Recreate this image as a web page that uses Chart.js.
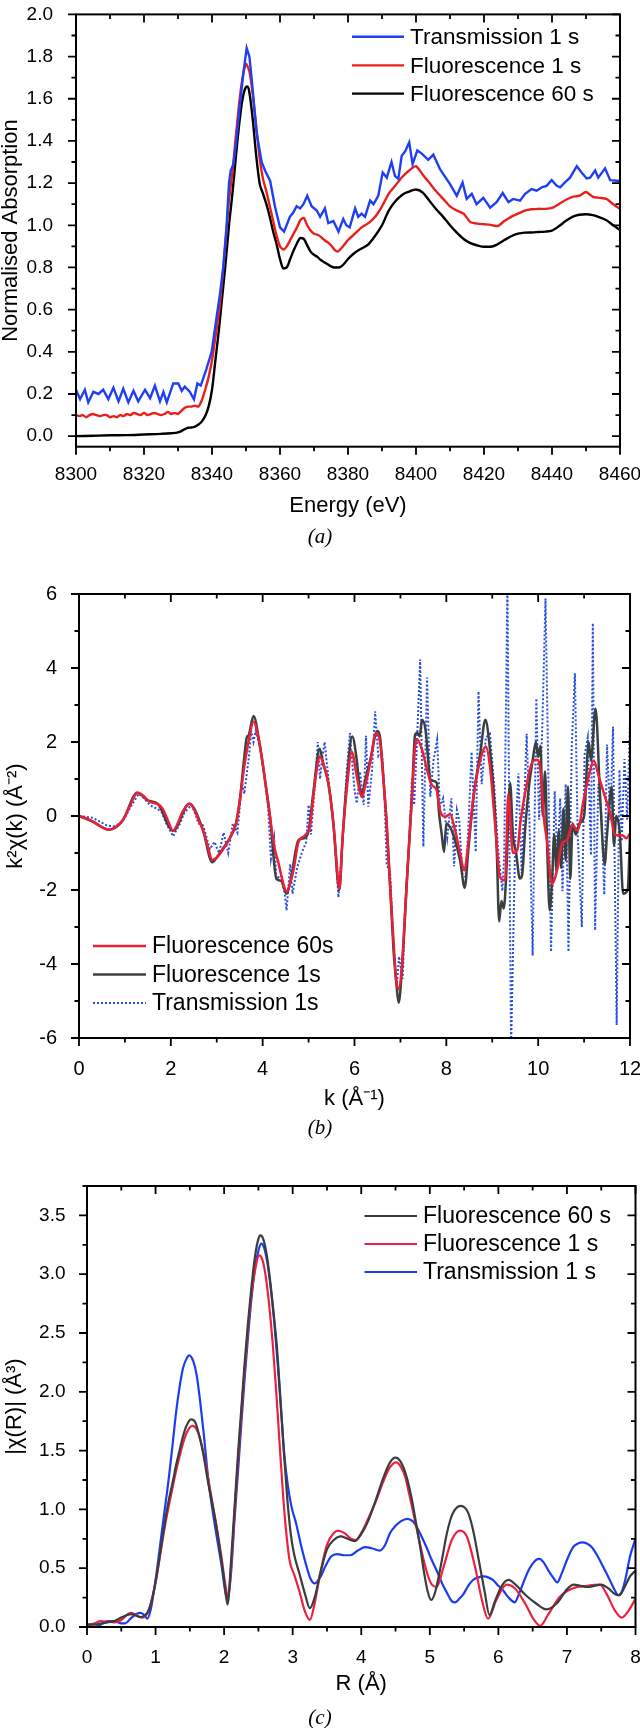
<!DOCTYPE html>
<html><head><meta charset="utf-8">
<script src="https://cdn.jsdelivr.net/npm/chart.js"></script>
<style>
html,body{margin:0;padding:0;background:#fff}
body{width:640px;height:1728px;position:relative;overflow:hidden}
canvas{position:absolute;left:0}
.cap{position:absolute;left:0;width:640px;text-align:center;font:italic 21px "Liberation Serif","Times New Roman",serif;line-height:22px;color:#000}
</style></head><body>
<canvas id="ca" width="660" height="572" style="top:-12px;width:660px;height:572px"></canvas>
<canvas id="cb" width="660" height="582" style="top:558px;width:660px;height:582px"></canvas>
<canvas id="cc" width="660" height="588" style="top:1140px;width:660px;height:588px"></canvas>
<div class="cap" style="top:525px">(a)</div>
<div class="cap" style="top:1116px">(b)</div>
<div class="cap" style="top:1706px">(c)</div>
<script>
// ---------- Panel (a): XANES ----------
const energyF60 = [8300,8305,8310,8315,8320,8325,8328,8330,8331,8332,8333,8334,8335,8336,8337,8338,8339,8340,8341,8342,8343,8344,8345,8346,8347,8348,8349,8350,8350.5,8351,8352,8353,8354,8355,8356,8357,8358,8359,8360,8361,8362,8363,8364,8365,8366,8367,8368,8369,8370,8371,8372,8373,8374,8375,8376,8377,8378,8379,8380,8382,8384,8386,8388,8390,8392,8394,8396,8398,8400,8402,8404,8406,8408,8410,8412,8414,8416,8418,8420,8422,8424,8426,8428,8430,8432,8434,8436,8438,8440,8442,8444,8446,8448,8450,8452,8454,8456,8458,8460];
const absF60 = [0.000,0.002,0.004,0.005,0.008,0.011,0.014,0.018,0.024,0.033,0.040,0.041,0.045,0.055,0.070,0.095,0.140,0.220,0.360,0.500,0.660,0.820,1.000,1.150,1.320,1.480,1.600,1.655,1.658,1.630,1.500,1.330,1.200,1.150,1.100,1.040,0.970,0.910,0.840,0.795,0.800,0.840,0.880,0.915,0.940,0.935,0.905,0.875,0.860,0.850,0.835,0.825,0.815,0.805,0.800,0.800,0.805,0.820,0.840,0.870,0.890,0.910,0.950,1.000,1.070,1.115,1.145,1.160,1.170,1.155,1.115,1.075,1.040,1.000,0.965,0.935,0.915,0.905,0.898,0.898,0.910,0.930,0.948,0.960,0.965,0.966,0.968,0.970,0.975,0.995,1.020,1.040,1.050,1.052,1.048,1.038,1.024,1.000,0.978];

const energyF1 = [8300,8301,8302,8303,8304,8305,8306,8307,8308,8309,8310,8311,8312,8313,8314,8315,8316,8317,8318,8319,8320,8321,8322,8323,8324,8325,8326,8327,8328,8329,8330,8331,8332,8333,8334,8335,8336,8337,8338,8339,8340,
 8341,8342,8343,8344,8345,8346,8347,8348,8349,8350,8351,8352,8353,8354,8355,8356,8357,8358,8359,8360,8361,8362,8363,8364,8365,8366,8367,8368,8369,8370,8371,8372,8373,8374,8375,8376,8377,8378,8379,8380,
 8382,8384,8386,8388,8390,8392,8394,8396,8398,8400,8402,8404,8406,8408,8410,8412,8414,8416,8418,8420,8422,8424,8426,8428,8430,8432,8434,8436,8438,8440,8442,8444,8446,8448,8450,8452,8454,8456,8458,8460];
const absF1 = [0.100,0.095,0.100,0.090,0.100,0.105,0.100,0.095,0.100,0.100,0.090,0.095,0.090,0.100,0.095,0.105,0.100,0.110,0.105,0.100,0.110,0.100,0.105,0.110,0.105,0.100,0.105,0.115,0.105,0.110,0.105,0.120,0.135,0.140,0.140,0.145,0.140,0.170,0.220,0.280,0.360,
 0.470,0.580,0.740,0.920,1.120,1.250,1.420,1.580,1.700,1.765,1.730,1.620,1.470,1.320,1.220,1.160,1.090,1.020,0.950,0.900,0.885,0.900,0.930,0.960,0.990,1.025,1.035,1.000,0.975,0.960,0.955,0.945,0.930,0.920,0.905,0.885,0.875,0.890,0.910,0.930,
 0.960,0.990,1.010,1.040,1.090,1.150,1.190,1.230,1.260,1.280,1.240,1.200,1.160,1.125,1.090,1.070,1.055,1.015,1.008,1.005,1.002,0.996,1.020,1.040,1.055,1.070,1.076,1.078,1.078,1.082,1.100,1.120,1.135,1.140,1.158,1.135,1.130,1.125,1.100,1.078];

const energyT1 = [8300,8301.2,8302.6,8303.6,8305.1,8306.6,8308,8309.5,8311,8312.5,8313.9,8315.4,8316.9,8318.3,8320.3,8321.8,8323.2,8324.7,8325.7,8326.7,8328.6,8330.1,8331.1,8332,8333.5,8334.7,8335.7,8336.7,8338.4,8339.9,8341.4,8342.4,8343.3,8344.3,8345,8345.5,8346.3,8347,8348.2,8349.2,8350.2,8351,8351.7,8353.1,8354.6,8355.6,8357.1,8358.5,8360,8361.2,8362.9,8363.9,8364.9,8365.9,8366.9,8368,8369.3,8370.8,8371.8,8373.2,8374.2,8375.7,8377.2,8378.6,8379.5,8380.5,8382.1,8383,8384,8385,8386.5,8387.5,8388.9,8390.2,8391.4,8392.8,8393.8,8394.8,8395.8,8396.8,8398,8399,8400.4,8401.7,8403.6,8405.1,8407.1,8410,8412,8413.7,8414.9,8416.4,8417.8,8419.8,8421.8,8423.7,8425.5,8427.2,8428.6,8430.6,8432.1,8434,8435.5,8437,8438.4,8439.9,8441.4,8442.4,8443.8,8445.3,8447.3,8448.7,8450.2,8451.2,8452.7,8453.6,8455.6,8457.1,8460];
const absT1 = [0.22,0.175,0.22,0.16,0.21,0.20,0.22,0.175,0.23,0.165,0.225,0.16,0.215,0.165,0.22,0.18,0.24,0.165,0.21,0.16,0.25,0.25,0.215,0.235,0.21,0.175,0.25,0.24,0.32,0.40,0.57,0.68,0.80,1.00,1.20,1.26,1.29,1.38,1.57,1.72,1.84,1.80,1.69,1.44,1.30,1.26,1.21,1.09,0.99,0.97,1.04,1.06,1.09,1.08,1.10,1.14,1.09,1.07,1.04,1.08,1.01,1.02,0.97,1.03,1.00,0.99,1.08,1.04,1.055,1.04,1.117,1.10,1.14,1.25,1.226,1.30,1.234,1.22,1.33,1.35,1.393,1.29,1.355,1.34,1.31,1.335,1.265,1.195,1.14,1.203,1.125,1.149,1.10,1.13,1.083,1.11,1.153,1.11,1.125,1.117,1.149,1.172,1.164,1.18,1.187,1.214,1.187,1.18,1.203,1.226,1.28,1.25,1.222,1.226,1.26,1.226,1.27,1.214,1.21];

// ---------- Panel (b): k-space EXAFS ----------
const kF60 = [0,0.15,0.3,0.45,0.65,0.8,0.95,1.1,1.27,1.4,1.5,1.6,1.72,1.82,1.93,2.05,2.15,2.25,2.4,2.5,2.6,2.7,2.8,2.9,3.0,3.15,3.3,3.42,3.5,3.6,3.7,3.8,3.94,4.05,4.16,4.25,4.35,4.45,4.52,4.6,4.67,4.78,4.9,4.96,5.03,5.1,5.16,5.24,5.32,5.43,5.54,5.6,5.67,5.74,5.83,5.94,6.05,6.16,6.23,6.34,6.47,6.56,6.63,6.7,6.78,6.86,6.91,6.96,7.03,7.14,7.25,7.32,7.37,7.47,7.58,7.68,7.79,7.86,7.97,8.08,8.19,8.3,8.39,8.48,8.59,8.74,8.86,8.95,9.06,9.17,9.28,9.35,9.45,9.55,9.61,9.77,9.88,9.97,10.03,10.08,10.12,10.19,10.3,10.41,10.52,10.63,10.74,10.86,10.99,11.1,11.21,11.32,11.43,11.57,11.68,11.83,11.92,12];
const chiF60 = [0,-0.06,-0.15,-0.27,-0.37,-0.3,-0.12,0.25,0.63,0.55,0.42,0.36,0.32,0.2,-0.1,-0.4,-0.2,0.1,0.33,0.2,-0.1,-0.38,-0.8,-1.18,-1.12,-0.88,-0.56,-0.2,0.4,1.34,2.06,2.55,1.9,0.98,-0.02,-0.8,-1.3,-1.83,-2.05,-1.8,-1.47,-0.7,-0.55,-0.47,-0.29,0.5,1.1,1.61,1.43,0.89,-0.2,-1.1,-1.96,-0.6,0.7,1.73,1.07,0.52,0.8,1.43,2.24,1.97,0.98,-0.2,-2.0,-3.6,-4.45,-4.68,-4.09,-1.74,0.52,1.88,2.06,1.79,1.25,0.84,0.7,0.16,-0.02,0.05,-0.38,-1.01,-1.47,-0.74,0.52,1.52,1.88,1.34,-0.2,-1.65,-1.74,0.6,-1.0,-0.9,-0.2,0.98,1.47,1.52,1.4,0.8,0.0,-0.65,-1.83,-1.47,-0.74,-0.65,-0.24,-0.38,0.43,1.07,1.5,1.07,0.62,0.07,-0.52,-0.52,-0.6,-0.47];

const kF1 = [0,0.3,0.65,0.95,1.27,1.5,1.72,2.05,2.4,2.7,2.9,3.0,3.15,3.3,3.42,3.5,3.6,3.65,3.7,3.8,3.94,4.05,4.16,4.3,4.4,4.52,4.6,4.78,4.9,5.0,5.1,5.24,5.32,5.43,5.54,5.67,5.74,5.83,5.95,6.05,6.1,6.16,6.23,6.34,6.5,6.56,6.63,6.7,6.78,6.86,6.91,6.96,7.03,7.14,7.25,7.32,7.37,7.42,7.47,7.55,7.65,7.7,7.79,7.84,7.9,7.95,8.0,8.08,8.15,8.3,8.4,8.48,8.6,8.74,8.85,8.95,9.05,9.1,9.15,9.2,9.25,9.3,9.39,9.45,9.52,9.6,9.65,9.72,9.8,9.88,9.95,10.0,10.05,10.1,10.15,10.2,10.25,10.3,10.35,10.4,10.45,10.5,10.55,10.6,10.65,10.7,10.75,10.82,10.9,11.0,11.1,11.15,11.25,11.35,11.45,11.5,11.6,11.65,11.7,11.78,11.85,11.95,12];
const chiF1 = [0,-0.15,-0.37,-0.12,0.63,0.42,0.32,-0.4,0.33,-0.38,-1.25,-1.12,-0.85,-0.56,-0.2,0.4,1.6,2.1,2.2,2.7,1.9,0.98,-0.02,-1.7,-1.75,-2.1,-1.8,-0.65,-0.6,-0.4,0.6,1.82,1.4,0.89,-0.2,-2.0,-0.6,0.9,2.15,1.5,0.9,0.6,0.95,1.5,2.3,2.1,1.0,-0.2,-2.0,-3.8,-4.5,-5.05,-4.2,-1.8,0.52,2.2,2.25,2.15,2.6,2.3,1.0,0.95,0.9,0.1,-0.5,-0.97,-0.2,-0.3,-0.5,-1.2,-1.94,-0.9,0.6,1.7,2.6,1.8,0.3,-1.0,-2.85,-2.3,-2.5,-1.7,0.89,-0.5,-1.0,-1.69,-1.6,-0.3,0.8,1.5,2.0,1.6,1.9,0.0,1.2,-1.0,-2.55,-1.8,-0.5,-1.5,-0.4,-1.4,0.2,-1.2,0.8,-1.7,-0.2,-0.5,-0.2,0.0,2.0,1.5,2.9,0.5,-1.3,-0.5,0.8,-0.8,0.0,-0.5,-2.1,-2.0,-0.5];

const kT1 = [0,0.15,0.3,0.45,0.6,0.75,0.9,1.0,1.15,1.3,1.4,1.5,1.6,1.7,1.8,1.9,2.05,2.2,2.3,2.45,2.55,2.6,2.7,2.75,2.85,2.95,3.05,3.15,3.25,3.35,3.45,3.55,3.6,3.7,3.75,3.8,3.85,3.95,4.05,4.12,4.18,4.25,4.3,4.4,4.48,4.52,4.6,4.65,4.75,4.85,4.95,5.0,5.05,5.15,5.2,5.25,5.3,5.35,5.45,5.55,5.65,5.75,5.83,5.9,6.0,6.05,6.12,6.2,6.25,6.3,6.38,6.45,6.52,6.6,6.65,6.7,6.78,6.85,6.92,6.97,7.05,7.1,7.2,7.25,7.3,7.36,7.43,7.5,7.58,7.65,7.72,7.8,7.86,7.93,8.02,8.11,8.17,8.23,8.28,8.35,8.42,8.48,8.55,8.64,8.7,8.77,8.86,8.95,9.04,9.13,9.22,9.26,9.33,9.41,9.5,9.57,9.64,9.75,9.81,9.88,9.96,10.02,10.09,10.16,10.24,10.28,10.36,10.42,10.48,10.53,10.6,10.66,10.73,10.8,10.86,10.95,11.01,11.08,11.15,11.19,11.24,11.31,11.38,11.44,11.5,11.57,11.63,11.71,11.77,11.82,11.88,11.94,12.0];
const chiT1 = [0,-0.02,-0.05,-0.15,-0.25,-0.28,-0.2,-0.05,0.3,0.6,0.5,0.35,0.25,0.2,0.1,-0.2,-0.55,-0.2,0.1,0.3,0.0,-0.2,-0.25,-0.45,-0.9,-0.7,-1.0,-0.45,-1.0,-0.2,-0.45,0.9,0.6,1.6,2.3,2.0,2.3,1.8,1.0,0.2,-1.15,-0.6,-1.7,-1.6,-2.1,-2.55,-1.3,-2.1,-1.4,-1.0,-0.7,0.3,-0.5,1.0,2.0,1.0,1.6,2.0,0.8,-0.3,-2.2,-0.5,1.2,2.24,0.7,0.34,1.2,0.3,2.17,0.25,1.2,2.83,1.61,1.7,0.7,-1.28,-1.6,-3.5,-4.6,-3.8,-4.4,-2.5,-0.5,1.0,0.3,2.0,4.23,-0.83,3.74,0.52,1.5,2.06,0.25,0.48,-0.58,0.48,-1.36,0.16,-0.1,-1.56,-1.65,-0.3,1.73,-0.97,3.37,0.86,2.12,2.22,0.86,-0.97,-2.03,-1.06,6.3,-6.3,-0.68,1.15,-1.55,2.22,-0.1,-3.77,3.18,-0.1,2.41,5.88,-0.3,-3.67,0.67,-1.26,0.48,-2.03,0.86,-3.67,1.83,3.86,-0.49,-3.0,1.64,2.12,-1.06,5.21,-3.09,0.86,0.0,-2.13,1.93,-0.1,2.41,-5.65,1.25,-0.68,1.54,-0.1,2.6];

// ---------- Panel (c): R-space magnitude ----------
const rF60 = [0,0.1,0.2,0.3,0.4,0.5,0.6,0.65,0.7,0.78,0.85,0.9,0.95,1.0,1.05,1.1,1.15,1.2,1.26,1.3,1.35,1.4,1.45,1.52,1.58,1.64,1.7,1.76,1.82,1.88,1.94,2.0,2.05,2.1,2.15,2.2,2.25,2.3,2.35,2.4,2.45,2.5,2.53,2.57,2.62,2.67,2.72,2.77,2.82,2.87,2.92,2.97,3.02,3.1,3.18,3.25,3.32,3.4,3.5,3.6,3.7,3.8,3.9,4.0,4.1,4.2,4.33,4.42,4.5,4.58,4.66,4.74,4.8,4.86,4.92,4.97,5.02,5.08,5.17,5.25,5.33,5.45,5.56,5.64,5.72,5.8,5.87,5.95,6.05,6.15,6.25,6.4,6.55,6.7,6.85,7.0,7.1,7.2,7.3,7.4,7.5,7.6,7.7,7.76,7.85,7.92,8.0];
const magF60 = [0.02,0.02,0.03,0.04,0.05,0.08,0.105,0.11,0.1,0.085,0.1,0.14,0.24,0.38,0.56,0.76,0.94,1.1,1.26,1.38,1.5,1.62,1.71,1.766,1.74,1.62,1.46,1.25,1.07,0.88,0.65,0.4,0.19,0.55,1.0,1.45,1.85,2.25,2.6,2.9,3.15,3.3,3.33,3.3,3.17,2.95,2.68,2.38,1.95,1.5,1.1,0.8,0.62,0.45,0.28,0.16,0.25,0.45,0.66,0.74,0.77,0.75,0.73,0.79,0.9,1.06,1.28,1.4,1.44,1.4,1.28,1.08,0.88,0.68,0.45,0.3,0.23,0.3,0.55,0.8,0.96,1.03,0.97,0.8,0.55,0.3,0.1,0.22,0.35,0.4,0.36,0.27,0.2,0.15,0.2,0.32,0.36,0.35,0.34,0.35,0.36,0.33,0.28,0.27,0.35,0.43,0.48];

const rF1 = [0,0.1,0.2,0.3,0.4,0.5,0.6,0.65,0.72,0.8,0.87,0.93,1.0,1.05,1.1,1.15,1.2,1.26,1.3,1.35,1.4,1.46,1.54,1.6,1.66,1.72,1.78,1.84,1.9,1.96,2.02,2.06,2.1,2.15,2.2,2.25,2.3,2.35,2.4,2.45,2.51,2.56,2.61,2.66,2.71,2.76,2.81,2.86,2.91,2.96,3.02,3.1,3.18,3.25,3.32,3.4,3.5,3.6,3.66,3.75,3.85,3.92,4.0,4.1,4.2,4.33,4.42,4.51,4.58,4.64,4.7,4.76,4.84,4.91,4.97,5.03,5.1,5.2,5.32,5.44,5.54,5.66,5.76,5.85,5.97,6.12,6.24,6.39,6.51,6.61,6.73,6.9,7.09,7.29,7.48,7.58,7.7,7.8,7.9,8.0];
const magF1 = [0.02,0.03,0.05,0.045,0.04,0.06,0.11,0.12,0.1,0.08,0.11,0.2,0.38,0.55,0.73,0.9,1.05,1.22,1.33,1.45,1.56,1.66,1.71,1.68,1.58,1.42,1.22,1.02,0.82,0.6,0.35,0.25,0.5,0.95,1.4,1.8,2.2,2.55,2.83,3.03,3.16,3.12,2.97,2.72,2.4,2.0,1.55,1.12,0.78,0.55,0.45,0.3,0.13,0.06,0.2,0.45,0.7,0.8,0.82,0.8,0.75,0.74,0.8,0.92,1.05,1.25,1.36,1.4,1.36,1.28,1.13,0.97,0.75,0.57,0.44,0.36,0.34,0.51,0.74,0.82,0.77,0.51,0.23,0.07,0.23,0.36,0.33,0.2,0.07,0.01,0.11,0.26,0.33,0.35,0.36,0.28,0.14,0.08,0.14,0.24];

const rT1 = [0,0.1,0.2,0.3,0.4,0.5,0.55,0.65,0.72,0.78,0.84,0.88,0.93,1.0,1.05,1.1,1.15,1.19,1.25,1.3,1.35,1.4,1.45,1.49,1.55,1.6,1.65,1.7,1.77,1.85,1.95,2.05,2.1,2.15,2.2,2.25,2.3,2.35,2.4,2.45,2.5,2.54,2.58,2.63,2.68,2.73,2.78,2.83,2.88,2.93,2.98,3.05,3.12,3.2,3.26,3.32,3.4,3.48,3.56,3.65,3.75,3.84,3.95,4.06,4.15,4.27,4.35,4.42,4.5,4.58,4.67,4.75,4.81,4.88,4.95,5.02,5.1,5.18,5.25,5.32,5.37,5.43,5.49,5.56,5.63,5.7,5.78,5.86,5.92,6.0,6.07,6.15,6.24,6.3,6.36,6.43,6.49,6.55,6.6,6.66,6.73,6.8,6.86,6.92,7.0,7.09,7.16,7.22,7.29,7.36,7.45,7.53,7.6,7.65,7.7,7.75,7.8,7.85,7.92,8.0];
const magT1 = [0.01,0.0,0.02,0.05,0.05,0.03,0.03,0.08,0.11,0.12,0.1,0.07,0.15,0.4,0.62,0.85,1.07,1.25,1.56,1.83,2.04,2.2,2.28,2.31,2.26,2.14,1.92,1.66,1.25,0.92,0.57,0.24,0.45,0.9,1.3,1.72,2.12,2.48,2.8,3.05,3.2,3.26,3.23,3.1,2.88,2.6,2.25,1.85,1.45,1.2,1.03,0.88,0.7,0.52,0.41,0.37,0.42,0.52,0.6,0.62,0.61,0.61,0.65,0.68,0.67,0.65,0.7,0.8,0.86,0.9,0.92,0.9,0.85,0.77,0.68,0.58,0.48,0.37,0.29,0.22,0.21,0.24,0.28,0.35,0.4,0.42,0.43,0.42,0.4,0.35,0.31,0.25,0.21,0.28,0.37,0.47,0.53,0.57,0.58,0.55,0.48,0.42,0.38,0.45,0.57,0.68,0.71,0.72,0.71,0.68,0.6,0.51,0.43,0.37,0.31,0.27,0.3,0.4,0.6,0.75];

// ---------- helpers ----------
const FONT = '"Liberation Sans", Arial, Helvetica, sans-serif';
function pts(xs, ys){ return xs.map((x,i)=>({x:x, y:ys[i]})); }

function framePlugin(o){
  return { id:'frameTicks', afterDraw(chart){
    const ctx = chart.ctx, a = chart.chartArea, xs = chart.scales.x, ys = chart.scales.y;
    ctx.save();
    ctx.strokeStyle = '#000'; ctx.lineCap = 'butt';
    ctx.lineWidth = 1.8;
    const isMajor = (v,s,m)=>{ const r=(v-s)/m; return Math.abs(r-Math.round(r))<1e-6; };
    for (let i=0;;i++){
      const v = o.xStart + i*o.xMinor; if (v > xs.max + 1e-9) break; if (v < xs.min - 1e-9) continue;
      const L = isMajor(v,o.xStart,o.xMajor) ? 8 : 4.5; const px = xs.getPixelForValue(v);
      ctx.beginPath(); ctx.moveTo(px,a.bottom); ctx.lineTo(px,a.bottom+L);
      ctx.moveTo(px,a.top); ctx.lineTo(px,a.top+L); ctx.stroke();
    }
    for (let i=0;;i++){
      const v = o.yStart + i*o.yMinor; if (v > ys.max + 1e-9) break; if (v < ys.min - 1e-9) continue;
      const L = isMajor(v,o.yStart,o.yMajor) ? 8 : 4.5; const py = ys.getPixelForValue(v);
      ctx.beginPath(); ctx.moveTo(a.left,py); ctx.lineTo(a.left-L,py);
      ctx.moveTo(a.right,py); ctx.lineTo(a.right-L,py); ctx.stroke();
    }
    ctx.lineWidth = 2;
    ctx.strokeRect(a.left, a.top, a.right-a.left, a.bottom-a.top);
    // legend
    const lg = o.legend;
    ctx.font = lg.size + 'px ' + FONT; ctx.textBaseline = 'middle'; ctx.textAlign = 'left'; ctx.fillStyle = '#000';
    chart.data.datasets.forEach((ds,i)=>{
      const yy = lg.ys[i];
      ctx.strokeStyle = ds.borderColor; ctx.lineWidth = ds.borderWidth; ctx.setLineDash(ds.borderDash || []);
      ctx.beginPath(); ctx.moveTo(lg.x1,yy); ctx.lineTo(lg.x2,yy); ctx.stroke(); ctx.setLineDash([]);
      ctx.fillText(ds.label, lg.tx, yy + 1);
    });
    ctx.restore();
  }};
}

function makeOptions(p){
  return {
    responsive:false, animation:false, devicePixelRatio:1,
    layout:{padding:{left:p.pl, right:p.pr, top:p.pt, bottom:p.pb}},
    plugins:{legend:{display:false}, tooltip:{enabled:false}, title:{display:false}},
    elements:{point:{radius:0, hoverRadius:0}},
    scales:{
      x:{type:'linear', min:p.xmin, max:p.xmax, grid:{display:false}, border:{display:false},
         ticks:{stepSize:p.xstep, padding:p.xpad, color:'#000', font:{family:FONT, size:p.tick, lineHeight:1.2}, maxRotation:0, autoSkip:false, includeBounds:false, callback:p.xfmt},
         title:{display:true, text:p.xtitle, color:'#000', font:{family:FONT, size:22, lineHeight:1}, padding:0},
         afterFit(s){ s.height = p.xh; }},
      y:{type:'linear', min:p.ymin, max:p.ymax, grid:{display:false}, border:{display:false},
         ticks:{stepSize:p.ystep, padding:p.ypad, color:'#000', font:{family:FONT, size:p.tick, lineHeight:1.2}, autoSkip:false, includeBounds:false, callback:p.yfmt},
         title:{display:true, text:p.ytitle, color:'#000', font:{family:FONT, size:22, lineHeight:1}, padding:0},
         afterFit(s){ s.width = p.yw; }}
    }
  };
}

// ---------- chart (a) ----------
new Chart(document.getElementById('ca'), {
  type:'line',
  data:{datasets:[
    {label:'Transmission 1 s', data:pts(energyT1, absT1), borderColor:'#1f3ff5', borderWidth:2.4, tension:0, fill:false},
    {label:'Fluorescence 1 s', data:pts(energyF1, absF1), borderColor:'#e8201c', borderWidth:2.4, tension:0.2, fill:false},
    {label:'Fluorescence 60 s', data:pts(energyF60, absF60), borderColor:'#000000', borderWidth:2.4, cubicInterpolationMode:'monotone', fill:false}
  ]},
  options:makeOptions({pl:0, pr:40, pt:20, pb:43.2, xmin:8300, xmax:8460, xstep:20, xpad:9, tick:19,
    xfmt:v=>String(v), xtitle:'Energy (eV)', xh:70.1,
    ymin:-0.05, ymax:2.0, ystep:0.2, ypad:15, yfmt:v=>v.toFixed(1), ytitle:'Normalised Absorption', yw:76}),
  plugins:[framePlugin({xStart:8300, xMinor:10, xMajor:20, yStart:0, yMinor:0.1, yMajor:0.2,
    legend:{x1:352, x2:404, tx:410, ys:[48.8, 77.4, 105.6], size:22.5}})]
});

// ---------- chart (b) ----------
new Chart(document.getElementById('cb'), {
  type:'line',
  data:{datasets:[
    {label:'Fluorescence 60s', data:pts(kF60, chiF60), borderColor:'#e82038', borderWidth:2.5, cubicInterpolationMode:'monotone', fill:false},
    {label:'Fluorescence 1s', data:pts(kF1, chiF1), borderColor:'#3a4040', borderWidth:2.5, cubicInterpolationMode:'monotone', fill:false},
    {label:'Transmission 1s', data:pts(kT1, chiT1), borderColor:'#2b4fd8', borderWidth:2, borderDash:[2,2], tension:0, fill:false}
  ]},
  options:makeOptions({pl:4.5, pr:30, pt:36, pb:30.4, xmin:0, xmax:12, xstep:2, xpad:11, tick:20,
    xfmt:v=>String(v), xtitle:'k (Å⁻¹)', xh:71.6,
    ymin:-6, ymax:6, ystep:2, ypad:14, yfmt:v=>String(v), ytitle:'k²χ(k) (Å⁻²)', yw:74.5}),
  plugins:[framePlugin({xStart:0, xMinor:1, xMajor:2, yStart:-6, yMinor:1, yMajor:2,
    legend:{x1:93, x2:146, tx:152, ys:[388, 416.6, 445], size:23}})]
});

// ---------- chart (c) ----------
new Chart(document.getElementById('cc'), {
  type:'line',
  data:{datasets:[
    {label:'Fluorescence 60 s', data:pts(rF60, magF60), borderColor:'#3a3d3d', borderWidth:2.2, cubicInterpolationMode:'monotone', fill:false},
    {label:'Fluorescence 1 s', data:pts(rF1, magF1), borderColor:'#ee2040', borderWidth:2.2, cubicInterpolationMode:'monotone', fill:false},
    {label:'Transmission 1 s', data:pts(rT1, magT1), borderColor:'#1b3cf0', borderWidth:2.2, cubicInterpolationMode:'monotone', fill:false}
  ]},
  options:makeOptions({pl:4, pr:24.5, pt:46, pb:33, xmin:0, xmax:8, xstep:1, xpad:11.6, tick:19,
    xfmt:v=>String(v), xtitle:'R (Å)', xh:68,
    ymin:0, ymax:3.75, ystep:0.5, ypad:13.5, yfmt:v=>v.toFixed(1), ytitle:'|χ(R)| (Å³)', yw:83}),
  plugins:[framePlugin({xStart:0, xMinor:0.5, xMajor:1, yStart:0, yMinor:0.25, yMajor:0.5,
    legend:{x1:364.5, x2:417, tx:423, ys:[76, 104, 132], size:23}})]
});
</script>
</body></html>
